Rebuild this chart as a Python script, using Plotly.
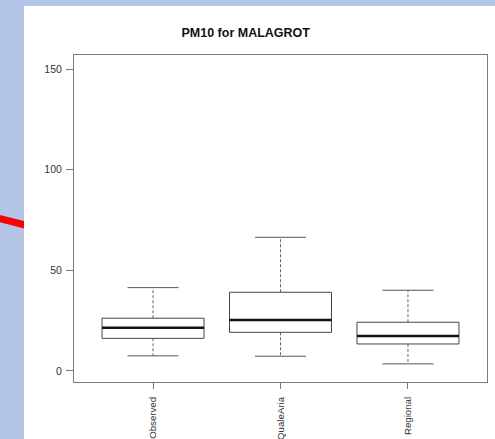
import plotly.graph_objects as go

categories = ["Observed", "QualeAria", "Regional"]
lower_whisker = [7.5, 7.3, 3.5]
q1 = [16.2, 19.2, 13.4]
median = [21.5, 25.3, 17.4]
q3 = [26.2, 39.1, 24.2]
upper_whisker = [41.4, 66.4, 40.1]
y_ticks = [0, 50, 100, 150]
title_text = "PM10 for MALAGROT"

W, H = 495, 439
ML, MR, MT, MB = 74, 8, 55, 57
PW, PH = W - ML - MR, H - MT - MB

def px_x(p):
    return (p - ML) / PW

def px_y(p):
    return (H - MB - p) / PH

BOX_HALF = 0.4
CAP_HALF = 0.2
line_col = "#444444"
axis_col = "#7a7a7a"

fig = go.Figure()
for i, name in enumerate(categories):
    x = i + 1
    # whiskers (dashed)
    fig.add_trace(go.Scatter(x=[x, x, None, x, x],
                             y=[q3[i], upper_whisker[i], None, q1[i], lower_whisker[i]],
                             mode="lines", line=dict(color="#666666", width=1, dash="3px,2px"),
                             hoverinfo="skip", showlegend=False))
    # caps
    fig.add_trace(go.Scatter(x=[x - CAP_HALF, x + CAP_HALF, None, x - CAP_HALF, x + CAP_HALF],
                             y=[upper_whisker[i], upper_whisker[i], None, lower_whisker[i], lower_whisker[i]],
                             mode="lines", line=dict(color="#555555", width=1),
                             hoverinfo="skip", showlegend=False))
    # box
    fig.add_trace(go.Scatter(x=[x - BOX_HALF, x + BOX_HALF, x + BOX_HALF, x - BOX_HALF, x - BOX_HALF],
                             y=[q1[i], q1[i], q3[i], q3[i], q1[i]],
                             mode="lines", fill="toself", fillcolor="white",
                             line=dict(color=line_col, width=1),
                             hoverinfo="skip", showlegend=False))
    # median
    fig.add_trace(go.Scatter(x=[x - BOX_HALF, x + BOX_HALF], y=[median[i], median[i]],
                             mode="lines", line=dict(color="#111111", width=2.5),
                             hoverinfo="skip", showlegend=False))

shapes = [
    # red line on the blue background
    dict(type="line", xref="paper", yref="paper", layer="below",
         x0=px_x(-2), y0=px_y(218), x1=px_x(25), y1=px_y(225),
         line=dict(color="#ff0000", width=7)),
    # white panel
    dict(type="rect", xref="paper", yref="paper", layer="below",
         x0=px_x(24), y0=px_y(H + 2), x1=px_x(W + 2), y1=px_y(6),
         fillcolor="white", line=dict(width=0)),
]

fig.update_layout(
    width=W, height=H,
    margin=dict(l=ML, r=MR, t=MT, b=MB, autoexpand=False),
    paper_bgcolor="#b3c5e6",
    plot_bgcolor="white",
    shapes=shapes,
    showlegend=False,
    font=dict(family="Liberation Sans, Arial, sans-serif", color="#333333"),
    title=dict(text="<b>" + title_text + "</b>", x=px_x(279), xanchor="center",
               y=1 - 33 / H, yanchor="middle", font=dict(size=12.5, color="#111111")),
    xaxis=dict(range=[0.38, 3.62], tickmode="array", tickvals=[1, 2, 3], ticktext=categories,
               tickangle=-90, ticks="outside", ticklen=6, tickcolor=axis_col,
               showline=True, linecolor=axis_col, linewidth=1, mirror=True,
               showgrid=False, zeroline=False, tickfont=dict(size=9.7, color="#333333"),
               ticklabelstandoff=4),
    yaxis=dict(range=[-5.5, 157], tickmode="array", tickvals=y_ticks,
               ticks="outside", ticklen=7, tickcolor=axis_col,
               showline=True, linecolor=axis_col, linewidth=1, mirror=True,
               showgrid=False, zeroline=False, tickfont=dict(size=10.5, color="#333333"),
               ticklabelstandoff=2),
)

fig.write_html("out.html", config={"displayModeBar": False},
               post_script="document.body.style.margin='0';document.body.style.overflow='hidden';")
